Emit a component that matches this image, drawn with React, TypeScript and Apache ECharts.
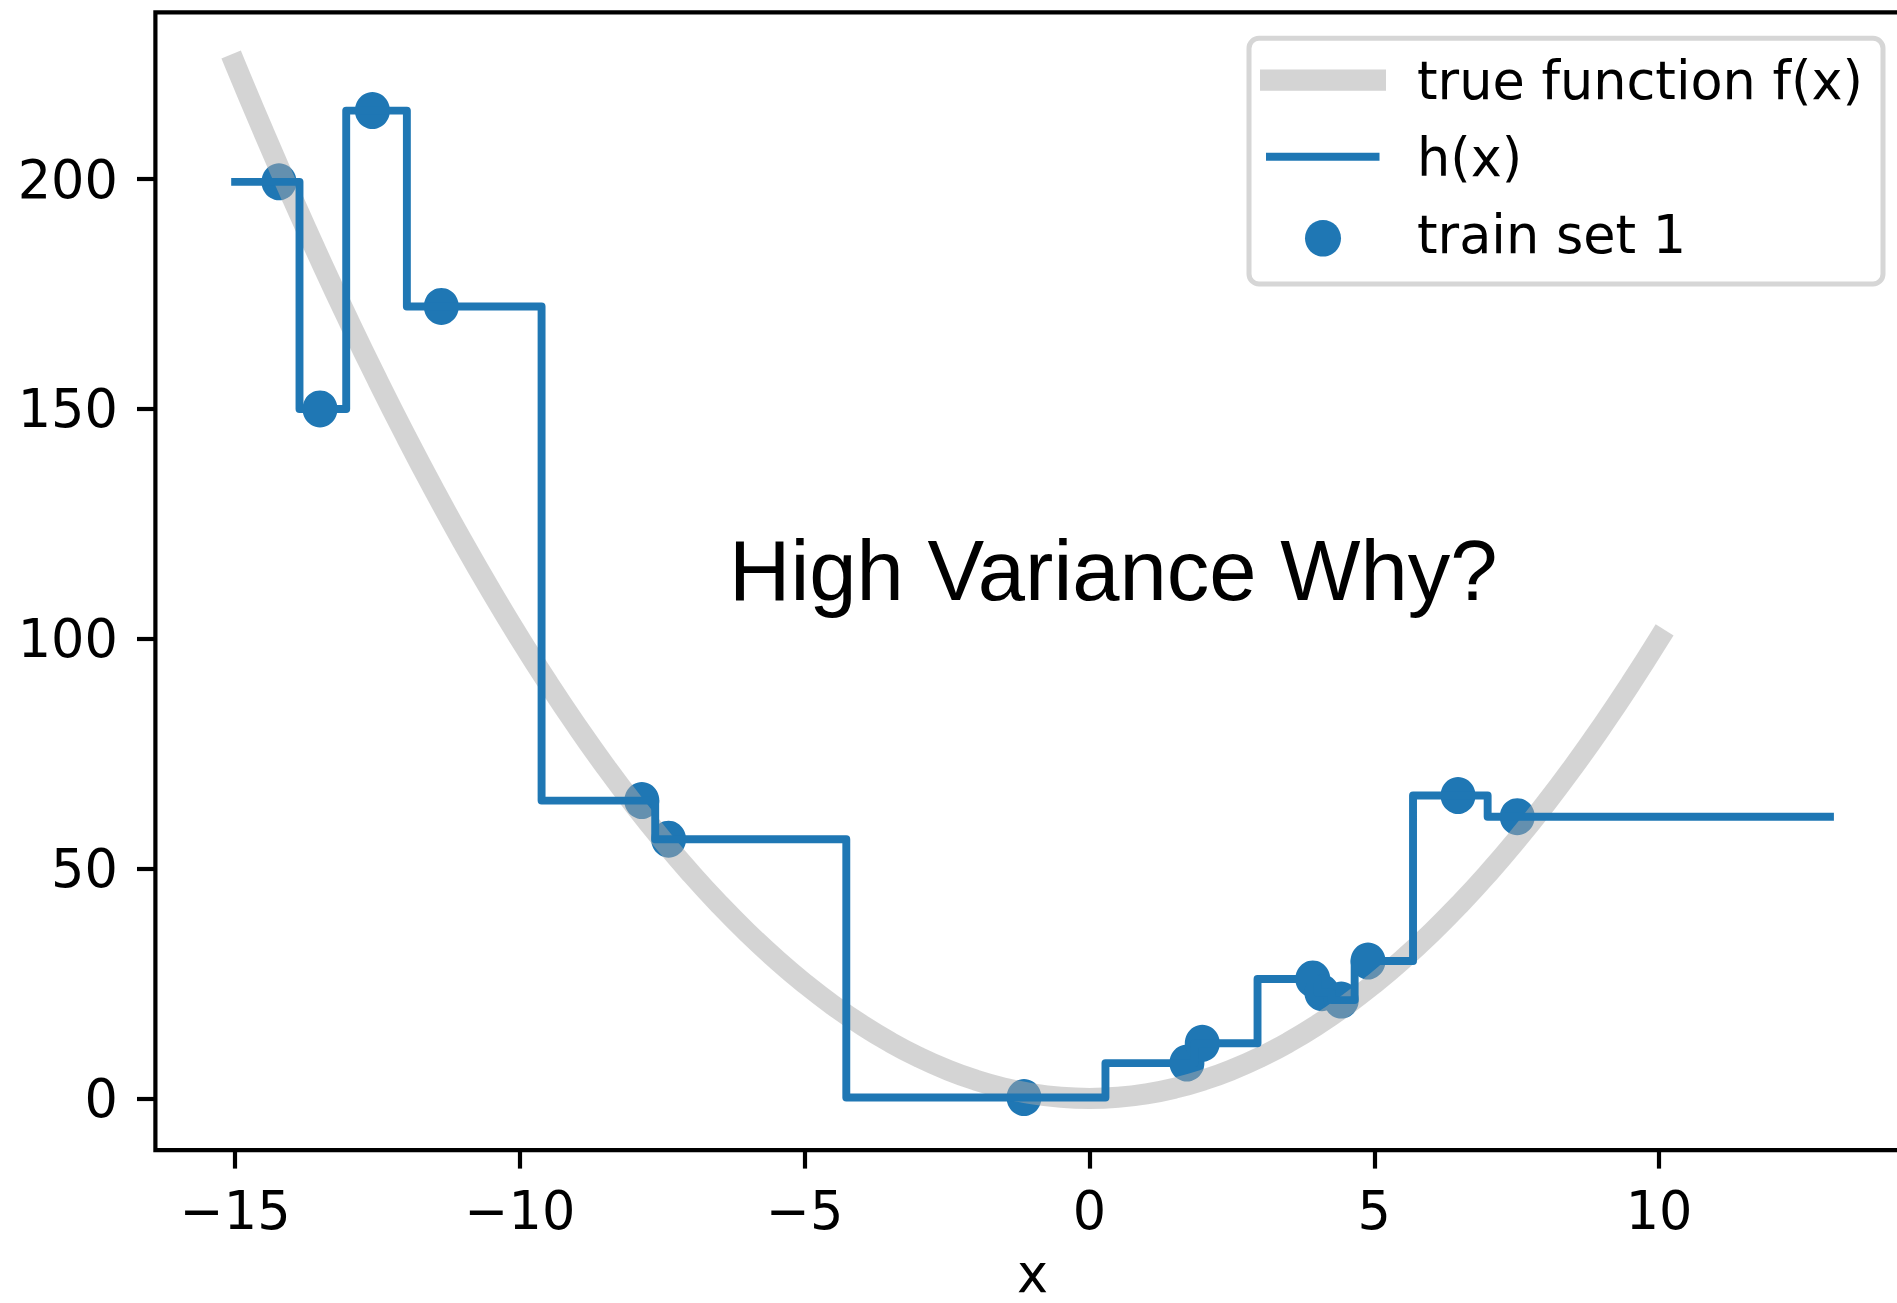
import React, { useEffect, useRef } from "react";
import * as echarts from "echarts";

// Training sample (x, y) for "train set 1"
const trainX = [-14.23, -13.51, -12.59, -11.38, -7.86, -7.39, -1.15, 1.71, 1.98, 3.92, 4.08, 4.42, 4.89, 6.47, 7.51];
const trainY = [199.4, 150.0, 214.9, 172.3, 64.8, 56.4, 0.2, 7.7, 12.0, 26.0, 23.0, 21.4, 29.9, 65.9, 61.3];

// True function f(x) sampled every 0.5 from -15 to 10
const trueX = [
  -15, -14.5, -14, -13.5, -13, -12.5, -12, -11.5, -11, -10.5, -10, -9.5, -9, -8.5, -8, -7.5, -7,
  -6.5, -6, -5.5, -5, -4.5, -4, -3.5, -3, -2.5, -2, -1.5, -1, -0.5, 0, 0.5, 1, 1.5, 2, 2.5, 3,
  3.5, 4, 4.5, 5, 5.5, 6, 6.5, 7, 7.5, 8, 8.5, 9, 9.5, 10,
];
const trueY = [
  225, 210.25, 196, 182.25, 169, 156.25, 144, 132.25, 121, 110.25, 100, 90.25, 81, 72.25, 64, 56.25, 49,
  42.25, 36, 30.25, 25, 20.25, 16, 12.25, 9, 6.25, 4, 2.25, 1, 0.25, 0, 0.25, 1, 2.25, 4, 6.25, 9,
  12.25, 16, 20.25, 25, 30.25, 36, 42.25, 49, 56.25, 64, 72.25, 81, 90.25, 100,
];

// Domain over which the nearest-neighbour hypothesis h(x) is drawn
const hDomain = [-15, 13];

// Axis ranges and ticks
const xRange = [-16.4, 14.4];
const yRange = [-11.25, 236.25];
const xTicks = [-15, -10, -5, 0, 5, 10];
const yTicks = [0, 50, 100, 150, 200];

const BLUE = "#1f77b4";
const TICK_FONT = "DejaVu Sans";
const TICK_SIZE = 52.5;

const fmt = (v: number) => String(v).replace("-", "\u2212");

export default function App() {
  const ref = useRef<HTMLDivElement>(null);

  useEffect(() => {
    if (!ref.current) return;
    const chart = echarts.init(ref.current, undefined, { renderer: "svg" });

    const trainPts = trainX.map((x, i) => [x, trainY[i]]);
    const truePts = trueX.map((x, i) => [x, trueY[i]]);
    // 1-nearest-neighbour prediction: steps switch halfway between samples
    const hPts = [
      [hDomain[0], trainY[0]],
      ...trainPts,
      [hDomain[1], trainY[trainY.length - 1]],
    ];

    const axisCommon = {
      type: "value" as const,
      splitLine: { show: false },
      axisLine: { show: false, onZero: false },
    };

    chart.setOption({
      animation: false,
      backgroundColor: "#ffffff",
      grid: {
        show: true,
        left: 155.4,
        top: 12.45,
        width: 1754.3,
        height: 1137.75,
        outerBoundsMode: "none",
        containLabel: false,
        borderColor: "#000000",
        borderWidth: 4.2,
        backgroundColor: "transparent",
      },
      xAxis: {
        ...axisCommon,
        min: xRange[0],
        max: xRange[1],
        name: "x",
        nameLocation: "middle",
        nameGap: 97,
        nameTextStyle: { fontSize: TICK_SIZE, fontFamily: TICK_FONT, color: "#000" },
        axisTick: {
          show: true,
          customValues: xTicks,
          length: 18.4,
          lineStyle: { width: 4.2, color: "#000" },
        },
        axisLabel: {
          customValues: xTicks,
          formatter: fmt,
          fontSize: TICK_SIZE,
          fontFamily: TICK_FONT,
          color: "#000",
          margin: 34,
        },
      },
      yAxis: {
        ...axisCommon,
        min: yRange[0],
        max: yRange[1],
        axisTick: {
          show: true,
          customValues: yTicks,
          length: 18.4,
          lineStyle: { width: 4.2, color: "#000" },
        },
        axisLabel: {
          customValues: yTicks,
          formatter: fmt,
          fontSize: TICK_SIZE,
          fontFamily: TICK_FONT,
          color: "#000",
          margin: 37.5,
        },
      },
      series: [
        {
          name: "train set 1",
          type: "scatter",
          data: trainPts,
          symbol: "circle",
          symbolSize: [35, 37],
          itemStyle: { color: BLUE, opacity: 1 },
          z: 2,
          silent: true,
        },
        {
          name: "true function f(x)",
          type: "line",
          data: truePts,
          smooth: true,
          showSymbol: false,
          lineStyle: { color: "#a9a9a9", opacity: 0.5, width: 21, cap: "square" },
          z: 3,
          silent: true,
        },
        {
          name: "h(x)",
          type: "line",
          data: hPts,
          step: "middle",
          showSymbol: false,
          lineStyle: { color: BLUE, width: 7.9, cap: "square", join: "round" },
          z: 4,
          silent: true,
        },
      ],
      graphic: [
        {
          type: "text",
          x: 729,
          y: 570,
          z: 100,
          style: {
            text: "High Variance Why?",
            fontSize: 85,
            fontFamily: "Liberation Sans, Arial, Helvetica, sans-serif",
            fill: "#000",
            align: "left",
            verticalAlign: "middle",
          },
        },
        // legend frame
        {
          type: "rect",
          z: 100,
          shape: { x: 1249, y: 38.3, width: 634, height: 245.7, r: 10 },
          style: { fill: "rgba(255,255,255,0.8)", stroke: "#d6d6d6", lineWidth: 5 },
        },
        {
          type: "rect",
          z: 101,
          shape: { x: 1260, y: 69.4, width: 126, height: 21.3 },
          style: { fill: "#a9a9a9", opacity: 0.5 },
        },
        {
          type: "rect",
          z: 101,
          shape: { x: 1266, y: 152.7, width: 113.5, height: 8 },
          style: { fill: BLUE },
        },
        {
          type: "ellipse",
          z: 101,
          shape: { cx: 1323, cy: 238.3, rx: 18, ry: 18.3 },
          style: { fill: BLUE },
        },
        ...[
          ["true function f(x)", 80.1],
          ["h(x)", 157.3],
          ["train set 1", 234.5],
        ].map(([t, y]) => ({
          type: "text",
          x: 1417,
          y: y as number,
          z: 101,
          style: {
            text: t as string,
            fontSize: TICK_SIZE,
            fontFamily: TICK_FONT,
            fill: "#000",
            align: "left",
            verticalAlign: "middle",
          },
        })),
      ],
    });

    return () => chart.dispose();
  }, []);

  return (
    <div
      ref={ref}
      style={{ position: "absolute", left: 0, top: 0, width: 1897, height: 1303, overflow: "hidden" }}
    />
  );
}
